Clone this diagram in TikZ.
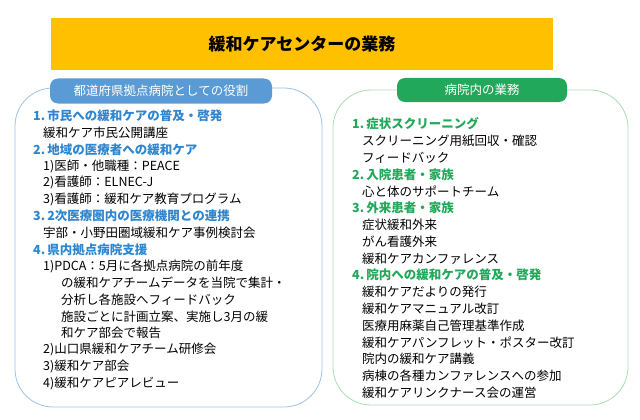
\documentclass[tikz,border=0pt]{standalone}
\usepackage{fontspec}
\setmainfont{Noto Sans CJK JP}
\newfontfamily\cjkb{Noto Sans CJK JP}[BoldFont={* Bold}]
\definecolor{tgold}{HTML}{FFC000}
\definecolor{lblue}{HTML}{5B9BD5}
\definecolor{bblue}{HTML}{9DC3E6}
\definecolor{tblue}{HTML}{2E86D0}
\definecolor{lgreen}{HTML}{22A85A}
\definecolor{bgreen}{HTML}{A8DDB5}
\tikzset{
  ln/.style={anchor=west,inner sep=0pt,font=\fontsize{12.5}{14}\selectfont},
  hb/.style={ln,text=tblue,font=\fontsize{12.5}{14}\selectfont\bfseries},
  hg/.style={ln,text=lgreen,font=\fontsize{12.5}{14}\selectfont\bfseries},
  frame/.style={rounded corners=38pt,line width=0.8pt,fill=white},
  pill/.style={rounded corners=8pt,text=white,font=\fontsize{12.5}{14}\selectfont,inner sep=0pt}
}
\begin{document}
\begin{tikzpicture}[x=1pt,y=-1pt]
\useasboundingbox (0,0) rectangle (640,420);
\fill[white] (0,0) rectangle (640,420);
\node[fill=tgold,minimum width=502pt,minimum height=52pt,inner sep=0pt,font=\fontsize{17}{20}\selectfont\bfseries] (title) at (302,44) {緩和ケアセンターの業務};
\draw[frame,draw=bblue] (15,88) rectangle (322,407);
\draw[frame,draw=bgreen] (333,90) rectangle (628,405);
\node[pill,fill=lblue,minimum width=222pt,minimum height=25pt] (lab1) at (161,91) {都道府県拠点病院としての役割};
\node[pill,fill=lgreen,minimum width=170pt,minimum height=24pt] (lab2) at (482,90) {病院内の業務};
% left
\node[hb] (a1) at (33,116) {1.\,市民への緩和ケアの普及・啓発};
\node[ln] (a2) at (43,132.7) {緩和ケア市民公開講座};
\node[hb] (a3) at (33,149.4) {2.\,地域の医療者への緩和ケア};
\node[ln] (a4) at (43,166.1) {1)医師・他職種：PEACE};
\node[ln] (a5) at (43,182.8) {2)看護師：ELNEC-J};
\node[ln] (a6) at (43,199.5) {3)看護師：緩和ケア教育プログラム};
\node[hb] (a7) at (33,216.2) {3.\,2次医療圏内の医療機関との連携};
\node[ln] (a8) at (43,232.9) {宇部・小野田圏域緩和ケア事例検討会};
\node[hb] (a9) at (33,249.6) {4.\,県内拠点病院支援};
\node[ln] (a10) at (43,266.3) {1)PDCA：5月に各拠点病院の前年度};
\node[ln] (a11) at (61,283) {の緩和ケアチームデータを当院で集計・};
\node[ln] (a12) at (61,299.7) {分析し各施設へフィードバック};
\node[ln] (a13) at (61,316.4) {施設ごとに計画立案、実施し3月の緩};
\node[ln] (a14) at (61,333.1) {和ケア部会で報告};
\node[ln] (a15) at (43,349.8) {2)山口県緩和ケアチーム研修会};
\node[ln] (a16) at (43,366.5) {3)緩和ケア部会};
\node[ln] (a17) at (43,383.2) {4)緩和ケアピアレビュー};
% right
\node[hg] (b1) at (352,124) {1.\,症状スクリーニング};
\node[ln] (b2) at (362,140.8) {スクリーニング用紙回収・確認};
\node[ln] (b3) at (362,157.6) {フィードバック};
\node[hg] (b4) at (352,174.4) {2.\,入院患者・家族};
\node[ln] (b5) at (362,191.2) {心と体のサポートチーム};
\node[hg] (b6) at (352,208) {3.\,外来患者・家族};
\node[ln] (b7) at (362,224.8) {症状緩和外来};
\node[ln] (b8) at (362,241.6) {がん看護外来};
\node[ln] (b9) at (362,258.4) {緩和ケアカンファレンス};
\node[hg] (b10) at (352,275.2) {4.\,院内への緩和ケアの普及・啓発};
\node[ln] (b11) at (362,292) {緩和ケアだよりの発行};
\node[ln] (b12) at (362,308.8) {緩和ケアマニュアル改訂};
\node[ln] (b13) at (362,325.6) {医療用麻薬自己管理基準作成};
\node[ln] (b14) at (362,342.4) {緩和ケアパンフレット・ポスター改訂};
\node[ln] (b15) at (362,359.2) {院内の緩和ケア講義};
\node[ln] (b16) at (362,376) {病棟の各種カンファレンスへの参加};
\node[ln] (b17) at (362,392.8) {緩和ケアリンクナース会の運営};
\end{tikzpicture}
\end{document}
